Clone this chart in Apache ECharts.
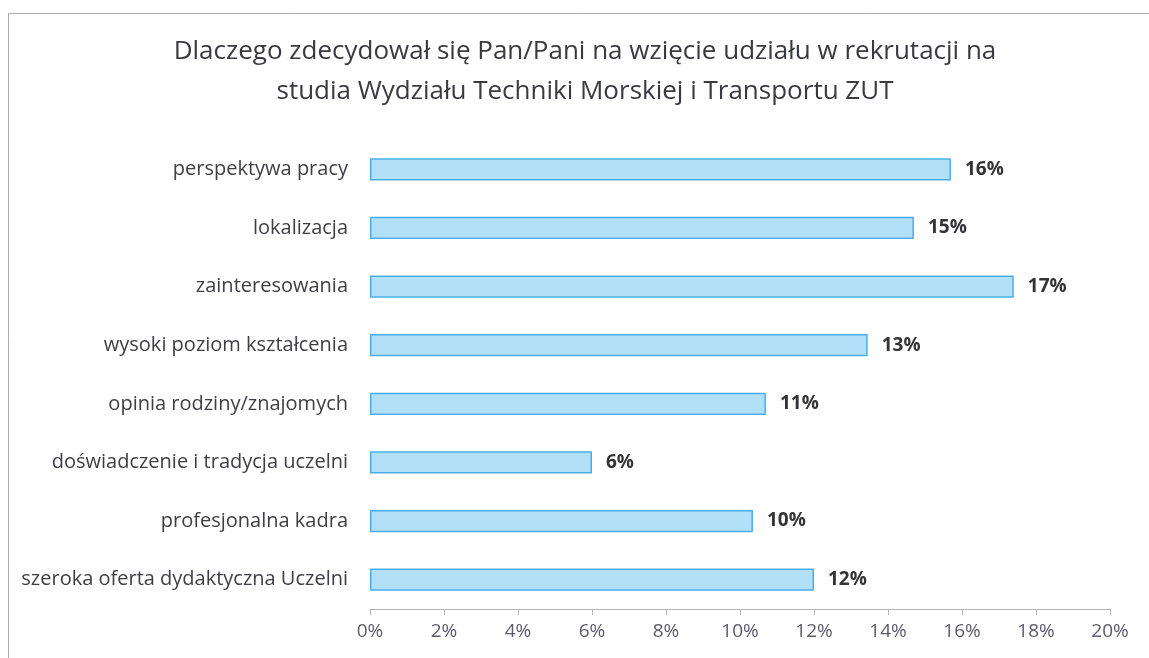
<!DOCTYPE html>
<html>
<head>
<meta charset="utf-8">
<script src="https://cdn.jsdelivr.net/npm/echarts@6/dist/echarts.min.js"></script>
<style>
  html, body { margin: 0; padding: 0; background: #fff; overflow: hidden; }
  #chart { width: 1149px; height: 658px; }
</style>
</head>
<body>
<div id="chart"></div>
<script>
const titleText = 'Dlaczego zdecydował się Pan/Pani na wzięcie udziału w rekrutacji na\nstudia Wydziału Techniki Morskiej i Transportu ZUT'

// top to bottom, as in the picture
const categories = [
  'perspektywa pracy',
  'lokalizacja',
  'zainteresowania',
  'wysoki poziom kształcenia',
  'opinia rodziny/znajomych',
  'doświadczenie i tradycja uczelni',
  'profesjonalna kadra',
  'szeroka oferta dydaktyczna Uczelni'
]
const values = [15.7, 14.7, 17.4, 13.45, 10.7, 6.0, 10.35, 12.0]

const axisMin = 0
const axisMax = 20
const axisStep = 2

const chart = echarts.init(document.getElementById('chart'), null, { renderer: 'canvas' })

chart.setOption({
  backgroundColor: '#ffffff',
  animation: false,
  // scanned page frame (left and top edge only)
  graphic: [{
    type: 'polyline',
    shape: { points: [[8.5, 700], [8.5, 13.5], [1200, 13.5]] },
    style: { stroke: '#a8a8b0', lineWidth: 1, fill: null },
    silent: true
  }],
  title: {
    text: titleText,
    left: 580,
    top: 27,
    textAlign: 'center',
    textStyle: {
      fontFamily: 'Open Sans',
      fontWeight: 'normal',
      fontSize: 26,
      lineHeight: 40,
      color: '#3a3a42'
    }
  },
  grid: {
    left: 370,
    right: 39,
    top: 140,
    bottom: 49
  },
  xAxis: {
    type: 'value',
    min: axisMin,
    max: axisMax,
    interval: axisStep,
    axisLine: { show: true, lineStyle: { color: '#b4b4b8', width: 1 } },
    axisTick: { show: true, length: 6, lineStyle: { color: '#b4b4b8' } },
    axisLabel: {
      formatter: v => v + '%',
      color: '#5c5a6e',
      fontFamily: 'Open Sans',
      fontSize: 19,
      margin: 13
    },
    splitLine: { show: false }
  },
  yAxis: {
    type: 'category',
    inverse: true,
    data: categories,
    axisLine: { show: false },
    axisTick: { show: false },
    axisLabel: {
      color: '#3e3e46',
      fontFamily: 'Open Sans',
      fontSize: 20,
      margin: 22
    }
  },
  series: [{
    type: 'bar',
    data: values,
    barCategoryGap: '62%',
    itemStyle: {
      color: '#b2e0f8',
      borderColor: '#4aaeea',
      borderWidth: 1.5
    },
    label: {
      show: true,
      position: 'right',
      distance: 14,
      formatter: p => Math.round(p.value) + '%',
      color: '#333338',
      fontFamily: 'Open Sans',
      fontWeight: 'bold',
      fontSize: 19
    }
  }]
})
</script>
</body>
</html>
